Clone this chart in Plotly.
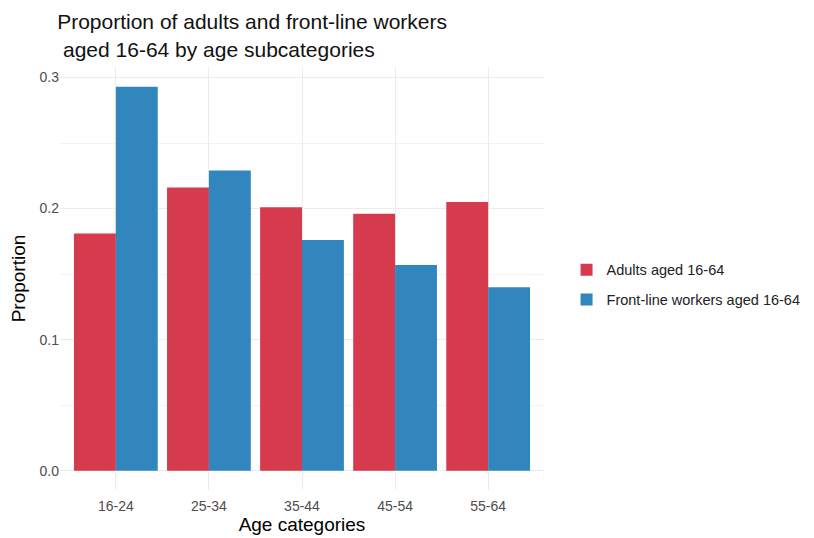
import plotly.graph_objects as go

categories = ["16-24", "25-34", "35-44", "45-54", "55-64"]
adults = [0.181, 0.216, 0.201, 0.196, 0.205]
frontline = [0.293, 0.229, 0.176, 0.157, 0.140]
series_names = ["Adults aged 16-64", "Front-line workers aged 16-64"]
y_ticks = [0.0, 0.1, 0.2, 0.3]

RED = "#D53A4D"
BLUE = "#3186BD"
FONT = "Liberation Sans, Arial, sans-serif"

fig = go.Figure()
fig.add_trace(go.Bar(x=categories, y=adults, name=series_names[0], legendgroup="a",
                     marker=dict(color=RED, line=dict(width=0))))
fig.add_trace(go.Bar(x=categories, y=frontline, name=series_names[1], legendgroup="b",
                     marker=dict(color=BLUE, line=dict(width=0))))

fig.update_layout(
    width=806, height=530,
    margin=dict(l=52, r=270, t=59, b=48, autoexpand=False),
    barmode="group", bargap=0.1, bargroupgap=0,
    plot_bgcolor="white", paper_bgcolor="white",
    font=dict(family=FONT, color="#000000"),
    title=dict(text="Proportion of adults and front-line workers<br> aged 16-64 by age subcategories",
               x=0.061, xref="container", xanchor="left", y=0.96, yanchor="top",
               font=dict(size=21, color="#111111")),
    legend=dict(x=0.693, xref="container", y=0.485, xanchor="left", yanchor="middle",
                font=dict(size=14.5, color="#222222"), bgcolor="rgba(0,0,0,0)",
                traceorder="grouped", tracegroupgap=8),
    xaxis=dict(type="category", range=[-0.6, 4.6], showgrid=True, gridcolor="#EBEBEB",
               gridwidth=1.2, zeroline=False, showline=False, ticks="",
               ticklabelstandoff=6,
               tickfont=dict(size=14, color="#4D4D4D"), automargin=False,
               title=dict(text="Age categories", font=dict(size=19, color="#000000"), standoff=4)),
    yaxis=dict(range=[-0.0147, 0.308], tickvals=y_ticks, ticktext=["0.0", "0.1", "0.2", "0.3"],
               showgrid=True, gridcolor="#EBEBEB", gridwidth=1.2, zeroline=False, showline=False,
               ticks="", tickfont=dict(size=14, color="#4D4D4D"), automargin=False,
               minor=dict(tickvals=[0.05, 0.15, 0.25], showgrid=True, gridcolor="#F3F3F3", gridwidth=1),
               title=dict(text="Proportion", font=dict(size=19, color="#000000"), standoff=12)),
)

fig.write_html("out.html")
